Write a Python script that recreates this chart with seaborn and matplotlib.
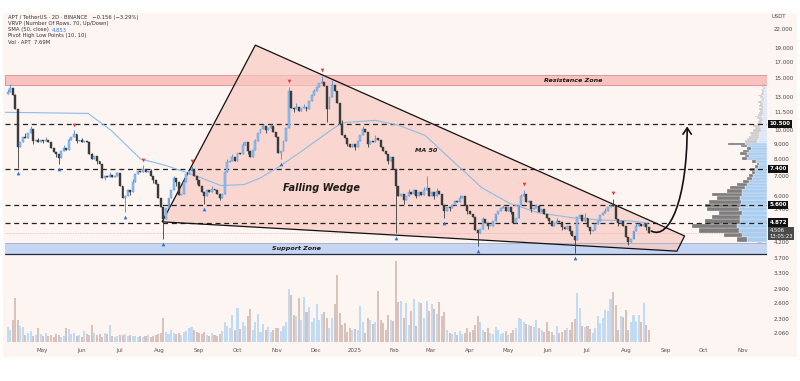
import numpy as np
import pandas as pd
import matplotlib
matplotlib.use("Agg")
import matplotlib.pyplot as plt
import matplotlib.dates as mdates
import matplotlib.transforms as mtransforms
from matplotlib.patches import Rectangle, Polygon, FancyArrowPatch
from matplotlib.path import Path
from matplotlib.ticker import NullLocator
import seaborn as sns

sns.set_theme(style="white")
plt.rcParams["font.family"] = ["DejaVu Sans"]

# --- data (APT/USDT, 2D candles) ---
start_date = "2024-04-04"
first_open = 13.3
closes = [
    13.5, 13.9, 13.2, 11.8, 8.8, 9.1, 9.5, 9.4, 9.8, 10.1,
    9.2, 9.3, 9.1, 9.25, 9.2, 9.3, 9.15, 8.7, 8.45, 8.3,
    8.05, 8.5, 8.7, 8.6, 9.3, 9.5, 9.7, 9.2, 9.3, 9.15,
    9.2, 9.1, 8.3, 8.0, 8.2, 7.9, 7.7, 6.9, 7.0, 6.95,
    7.05, 6.95, 7.0, 7.15, 6.5, 5.9, 6.0, 6.3, 6.2, 6.7,
    7.1, 7.3, 7.25, 7.4, 7.2, 7.3, 7.0, 6.8, 6.6, 5.9,
    5.5, 5.0, 5.45, 5.9, 6.3, 6.9, 6.7, 6.05, 6.1, 6.7,
    7.1, 7.3, 7.4, 7.0, 6.8, 6.5, 6.2, 6.0, 6.3, 6.2,
    6.35, 6.3, 6.1, 5.9, 6.1, 7.2, 7.8, 7.9, 8.1, 7.9,
    8.4, 8.3, 8.9, 9.1, 8.5, 8.1, 8.6, 9.2, 9.8, 10.1,
    10.3, 10.0, 10.2, 10.3, 9.9, 9.5, 8.4, 8.5, 9.2, 10.2,
    13.6, 11.9, 11.8, 12.0, 11.6, 11.9, 12.0, 11.8, 12.6, 13.2,
    13.6, 14.0, 14.4, 14.6, 14.1, 11.8, 13.0, 14.2, 13.6, 12.4,
    10.5, 9.6, 9.4, 9.0, 8.8, 9.0, 8.8, 9.2, 9.6, 10.1,
    9.9, 9.0, 9.2, 9.1, 9.4, 9.3, 8.8, 8.5, 8.3, 7.9,
    8.1, 7.4, 6.5, 6.0, 6.1, 5.8, 6.0, 6.2, 6.1, 6.3,
    6.0, 6.2, 6.05, 6.3, 6.4, 6.0, 6.2, 6.0, 6.25, 6.1,
    5.6, 5.35, 5.5, 5.45, 5.6, 5.75, 5.7, 5.9, 6.0, 5.6,
    5.35, 5.2, 5.1, 4.6, 4.5, 4.65, 5.0, 4.85, 4.75, 4.75,
    4.95, 5.2, 5.35, 5.45, 5.5, 5.35, 5.5, 5.3, 4.85, 5.05,
    5.6, 6.0, 6.1, 5.7, 5.75, 5.4, 5.45, 5.55, 5.3, 5.4,
    5.2, 5.05, 4.95, 4.75, 4.85, 4.95, 4.9, 4.7, 4.65, 4.75,
    4.55, 4.4, 4.25, 5.1, 5.15, 4.95, 5.05, 4.7, 4.55, 4.6,
    4.8, 4.95, 5.15, 5.25, 5.35, 5.5, 5.6, 5.55, 5.0, 4.85,
    4.95, 4.75, 4.35, 4.2, 4.3, 4.55, 4.75, 4.8, 4.75, 4.82,
    4.7, 4.506,
]
# wick extremes (index: price)
high_marks = {0: 13.8, 1: 14.3, 3: 13.3, 7: 9.8, 9: 10.3, 12: 9.4, 15: 9.5, 22: 8.9,
              24: 9.45, 26: 10.0, 29: 9.4, 33: 8.4, 40: 7.2, 43: 7.25, 49: 6.85,
              53: 7.6, 56: 7.4, 65: 7.0, 69: 6.85, 72: 7.55, 80: 6.5, 86: 8.0,
              88: 8.3, 92: 9.15, 97: 9.35, 100: 10.5, 103: 10.5, 110: 14.0,
              113: 12.4, 116: 12.3, 120: 13.8, 123: 15.3, 127: 14.8, 131: 10.8,
              139: 10.3, 144: 9.6, 157: 6.35, 163: 6.45, 164: 7.0, 168: 6.4,
              177: 6.05, 186: 5.1, 194: 5.6, 201: 6.1, 202: 6.3, 207: 5.65,
              215: 5.05, 226: 5.25, 234: 5.45, 237: 5.85, 246: 4.85}
low_marks = {4: 7.45, 10: 9.0, 14: 9.05, 19: 8.15, 20: 7.7, 27: 9.05, 35: 7.7,
             38: 6.8, 46: 5.3, 48: 6.05, 57: 6.65, 61: 4.3, 66: 6.5, 74: 6.6,
             77: 5.65, 83: 5.8, 94: 8.3, 101: 9.8, 107: 8.0, 112: 11.5, 117: 11.6,
             125: 10.7, 133: 8.85, 136: 8.6, 141: 8.8, 149: 7.7, 152: 4.5,
             155: 5.65, 160: 5.9, 167: 5.85, 171: 5.05, 173: 5.35, 180: 5.2,
             184: 4.05, 188: 4.65, 197: 5.2, 205: 5.3, 212: 4.85, 217: 4.6,
             220: 4.45, 222: 3.85, 228: 4.45, 239: 4.75, 243: 4.1, 250: 4.6}
volumes = [
    15, 12, 22, 45, 22, 16, 15, 7, 9, 11,
    6, 7, 14, 8, 6, 9, 6, 7, 5, 8,
    7, 5, 6, 14, 13, 8, 9, 6, 7, 5,
    11, 8, 7, 17, 9, 7, 8, 5, 9, 8,
    17, 6, 5, 6, 7, 7, 8, 6, 7, 6,
    6, 5, 6, 5, 6, 7, 5, 6, 7, 8,
    9, 24, 10, 8, 12, 9, 8, 9, 7, 10,
    11, 14, 15, 12, 10, 9, 8, 10, 7, 6,
    9, 7, 6, 8, 11, 20, 16, 14, 27, 12,
    34, 13, 20, 16, 26, 33, 12, 20, 28, 10,
    18, 12, 15, 10, 12, 14, 14, 11, 16, 20,
    54, 48, 27, 26, 45, 22, 46, 30, 35, 20,
    24, 38, 22, 28, 30, 24, 14, 24, 38, 68,
    29, 17, 19, 10, 14, 12, 13, 12, 36, 20,
    9, 24, 22, 18, 20, 52, 22, 19, 12, 27,
    22, 21, 82, 41, 42, 24, 39, 17, 31, 44,
    16, 41, 39, 24, 42, 31, 38, 33, 28, 41,
    26, 30, 12, 9, 8, 10, 7, 11, 8, 9,
    14, 10, 12, 17, 26, 20, 12, 10, 14, 9,
    8, 15, 12, 8, 9, 11, 7, 9, 12, 14,
    24, 23, 20, 18, 17, 16, 15, 22, 14, 12,
    10, 20, 11, 10, 7, 16, 9, 10, 12, 14,
    12, 20, 23, 50, 34, 16, 15, 16, 13, 9,
    14, 26, 19, 24, 32, 31, 44, 51, 37, 12,
    26, 25, 32, 12, 20, 27, 21, 27, 20, 39,
    17, 12,
]
pivot_high_idx = [26, 53, 72, 110, 123, 202, 237]
pivot_low_idx = [4, 20, 46, 61, 77, 107, 152, 171, 184, 222]

# visible range volume profile, 70 rows from low to high
vp_range = (3.85, 15.3)
vp_up = [4, 5, 20, 25, 28, 30, 27, 27, 25, 28,
         27, 26, 27, 25, 25, 22, 20, 18, 15, 14,
         12, 12, 9, 8, 11, 20, 18, 20, 18, 16,
         20, 22, 10, 9, 8, 8, 8, 6, 6, 7,
         5, 5, 4, 5, 6, 5, 4, 4, 4, 3,
         4, 4, 5, 3, 3, 4, 5, 3, 3, 3,
         3, 2, 3, 2, 3, 2, 2, 2, 2, 1]
vp_down = [4, 5, 10, 18, 40, 45, 35, 28, 23, 32,
           35, 32, 23, 30, 15, 15, 10, 6, 5, 4,
           3, 5, 3, 2, 4, 5, 4, 7, 6, 4,
           6, 17, 12, 11, 10, 8, 9, 8, 6, 7,
           5, 4, 4, 5, 6, 4, 4, 3, 4, 3,
           4, 3, 4, 3, 2, 3, 4, 3, 2, 2,
           3, 2, 2, 2, 2, 1, 2, 1, 1, 1]
value_area_rows = (2, 31)

sma_dates = ["2024-04-02", "2024-06-06", "2024-06-24", "2024-07-17", "2024-08-06",
             "2024-08-28", "2024-09-18", "2024-10-06", "2024-10-19", "2024-11-04",
             "2024-11-22", "2024-12-13", "2024-12-22", "2025-01-17", "2025-02-04",
             "2025-02-25", "2025-03-18", "2025-04-02", "2025-04-10", "2025-05-02",
             "2025-05-25", "2025-06-20", "2025-07-11", "2025-08-04", "2025-08-18"]
sma_values = [11.5, 11.4, 10.0, 8.0, 7.6, 7.05, 6.5, 6.55, 6.9, 7.6,
              8.6, 10.0, 10.6, 10.8, 10.4, 9.6, 7.9, 6.9, 6.4, 5.66,
              5.25, 5.06, 4.97, 4.94, 4.853]

key_levels = [10.5, 7.4, 5.6, 4.872]
last_price = 4.506
resistance_zone = (14.22, 15.38)
support_zone = (3.81, 4.155)
wedge_dates = ["2024-08-03", "2024-10-15", "2025-09-16", "2025-09-10"]
wedge_prices = [4.9, 19.4, 4.39, 3.90]
arrow_dates = ["2025-08-21", "2025-09-04", "2025-09-18", "2025-09-18"]
arrow_prices = [4.56, 4.25, 5.81, 10.3]

price_ticks = [22, 19, 17, 15, 13, 11.5, 10, 9, 8, 7, 6, 5.4, 4.2, 3.7, 3.3, 2.9, 2.6, 2.3, 2.06]
month_ticks = pd.date_range("2024-05-01", "2025-11-01", freq="MS")
month_labels = ["2025" if d.month == 1 else d.strftime("%b") for d in month_ticks]

legend_lines = ["APT / TetherUS · 2D · BINANCE   −0.156 (−3.29%)",
                "VRVP (Number Of Rows, 70, Up/Down)",
                "SMA (50, close)",
                "Pivot High Low Points (10, 10)",
                "Vol · APT  7.69M"]

# --- derived candle arrays ---
dates = pd.date_range(start_date, periods=len(closes), freq="2D")
xd = mdates.date2num(dates)
c = np.array(closes)
o = np.array([first_open] + closes[:-1])
h = np.maximum(o, c)
l = np.minimum(o, c)
for k, val in high_marks.items():
    h[k] = max(h[k], val)
for k, val in low_marks.items():
    l[k] = min(l[k], val)
up = c >= o
v = np.array(volumes, dtype=float)

bg = "#fdf5f2"
up_col, up_edge, dn_col = "#94c0ee", "#4f8fd8", "#3a3a3a"

fig = plt.figure(figsize=(8, 3.81), dpi=100)
fig.patch.set_facecolor("white")
fig.add_artist(Rectangle((3 / 800, 1 - 357 / 381), 794 / 800, 344 / 381,
                         transform=fig.transFigure, facecolor=bg, edgecolor="none", zorder=-10))

ax = fig.add_axes([5 / 800, 1 - 342 / 381, 762 / 800, 329 / 381])
ax.set_yscale("log")
ax.set_ylim(1.922, 24.92)
ax.set_xlim(mdates.date2num(pd.Timestamp("2024-04-02")), mdates.date2num(pd.Timestamp("2025-11-19 12:00")))
vol = ax.twinx()
vp = ax.twiny()
for a in (ax, vol, vp):
    a.patch.set_visible(False)
    for s in a.spines.values():
        s.set_visible(False)
vol.set_zorder(0)
vp.set_zorder(1)
ax.set_zorder(2)
vol.set_axis_off()
vp.set_axis_off()

# volume
vol.bar(xd, v, width=1.6, color=np.where(up, "#c2dbf3", "#d9c2bb"), linewidth=0)
vol.set_ylim(0, v.max() * 329 / 81)

# volume profile
edges = np.linspace(vp_range[0], vp_range[1], len(vp_up) + 1)
vu = np.array(vp_up, dtype=float)
vd = np.array(vp_down, dtype=float)
in_va = np.zeros(len(vu), bool)
in_va[value_area_rows[0]:value_area_rows[1] + 1] = True
vp.set_xlim((vu + vd).max() * 762 / 75, 0)
vp.barh(edges[:-1], vu, height=np.diff(edges), left=0, align="edge",
        color=np.where(in_va, "#a9cdf1", "#d7e6f6"), edgecolor=bg, linewidth=0.2)
vp.barh(edges[:-1], vd, height=np.diff(edges), left=vu, align="edge",
        color=np.where(in_va, "#7d7d7d", "#c8c8c8"), edgecolor=bg, linewidth=0.2)

# zones
ax.axhspan(*resistance_zone, facecolor="#f7b9b7", edgecolor="#d98a88", linewidth=0.7, alpha=0.85, zorder=1)
ax.axhspan(*support_zone, facecolor="#c6d5f2", edgecolor="none", zorder=1)
ax.axhline(support_zone[0], color="#1e2a44", linewidth=0.9, zorder=1.5)
ax.axhline(support_zone[1], color="#9aa6bf", linewidth=0.5, zorder=1.5)

# wedge
wx = mdates.date2num(pd.to_datetime(wedge_dates))
ax.add_patch(Polygon(np.column_stack([wx, wedge_prices]), closed=True,
                     facecolor="#f8c9c2", alpha=0.7, edgecolor="none", zorder=1.2))
ax.add_patch(Polygon(np.column_stack([wx, wedge_prices]), closed=True,
                     facecolor="none", edgecolor="#111111", linewidth=0.9, zorder=4))

# key levels
for lv in key_levels:
    ax.axhline(lv, color="#222222", linewidth=0.9, linestyle=(0, (4, 3)), zorder=3)
ax.axhline(last_price, color="#d9a3a3", linewidth=0.5, linestyle=(0, (1, 1.5)), zorder=3)

# SMA 50
sns.lineplot(x=mdates.date2num(pd.to_datetime(sma_dates)), y=sma_values, ax=ax,
             color="#8dbbe8", linewidth=0.8, zorder=3.5)

# candles
ccol = np.where(up, up_col, dn_col)
ecol = np.where(up, up_edge, dn_col)
ax.vlines(xd, l, h, colors=ecol, linewidth=0.6, zorder=5)
body_h = np.maximum(np.abs(c - o), l * 0.004)
ax.bar(xd, body_h, bottom=np.minimum(o, c), width=1.5, color=ccol,
       edgecolor=ecol, linewidth=0.3, zorder=5.5)

# pivots
ax.scatter(xd[pivot_high_idx], h[pivot_high_idx] * 1.045, marker="v", s=7,
           color="#e53935", linewidths=0, zorder=6)
ax.scatter(xd[pivot_low_idx], l[pivot_low_idx] / 1.04, marker="^", s=7,
           color="#2f6fd6", linewidths=0, zorder=6)

# projected move
ap = Path(np.column_stack([mdates.date2num(pd.to_datetime(arrow_dates)), arrow_prices]),
          [Path.MOVETO, Path.CURVE4, Path.CURVE4, Path.CURVE4])
ax.add_patch(FancyArrowPatch(path=ap, arrowstyle="->,head_length=0.45,head_width=0.3",
                             mutation_scale=10, color="#111111", linewidth=1.2, zorder=6))

# labels on chart
def dn(s):
    return mdates.date2num(pd.Timestamp(s))

ax.text(dn("2024-12-06"), 6.38, "Falling Wedge", ha="center", va="center", fontsize=7,
        fontweight="bold", fontstyle="italic", color="#1a1a1a", zorder=7)
ax.text(dn("2025-02-26"), 8.51, "MA 50", ha="center", va="center", fontsize=4.6,
        fontweight="bold", fontstyle="italic", color="#1a1a1a", zorder=7)
ax.text(dn("2025-06-21"), np.sqrt(np.prod(resistance_zone)), "Resistance Zone", ha="center",
        va="center", fontsize=4.6, fontweight="bold", fontstyle="italic", color="#1a1a1a", zorder=7)
ax.text(dn("2024-11-16"), np.sqrt(np.prod(support_zone)), "Support Zone", ha="center",
        va="center", fontsize=4.6, fontweight="bold", fontstyle="italic", color="#1a1a1a", zorder=7)

# axes ticks
ax.yaxis.tick_right()
ax.set_yticks(price_ticks)
ax.set_yticklabels([f"{t:.3f}" for t in price_ticks])
ax.yaxis.set_minor_locator(NullLocator())
ax.tick_params(axis="y", length=0, pad=5, labelsize=4, labelcolor="#444444")
ax.set_xticks(mdates.date2num(month_ticks))
ax.set_xticklabels(month_labels)
ax.xaxis.set_minor_locator(NullLocator())
ax.tick_params(axis="x", length=0, pad=4, labelsize=4, labelcolor="#555555")
ax.grid(False)

trans = mtransforms.blended_transform_factory(ax.transAxes, ax.transData)
for lv in key_levels:
    ax.text(1.003, lv, f"{lv:.3f}", transform=trans, ha="left", va="center", fontsize=4,
            fontweight="bold", color="white", zorder=8,
            bbox=dict(boxstyle="square,pad=0.3", fc="#111111", ec="none"))
ax.text(1.003, 4.47, f"{last_price:.3f}\n13:05:23", transform=trans, ha="left", va="center",
        fontsize=3.8, color="white", linespacing=1.1, zorder=8,
        bbox=dict(boxstyle="square,pad=0.3", fc="#4a4a4a", ec="none"))
fig.text(771 / 800, 1 - 16 / 381, "USDT", fontsize=3.8, color="#444444", va="center")

for i, line in enumerate(legend_lines):
    fig.text(8 / 800, 1 - (18 + 6 * i) / 381, line, fontsize=3.8, color="#333333", va="center")
fig.text(52 / 800, 1 - 30 / 381, "4.853", fontsize=3.8, color="#2f7bd8", va="center")

fig.savefig("out.png", dpi=100, facecolor="white")
